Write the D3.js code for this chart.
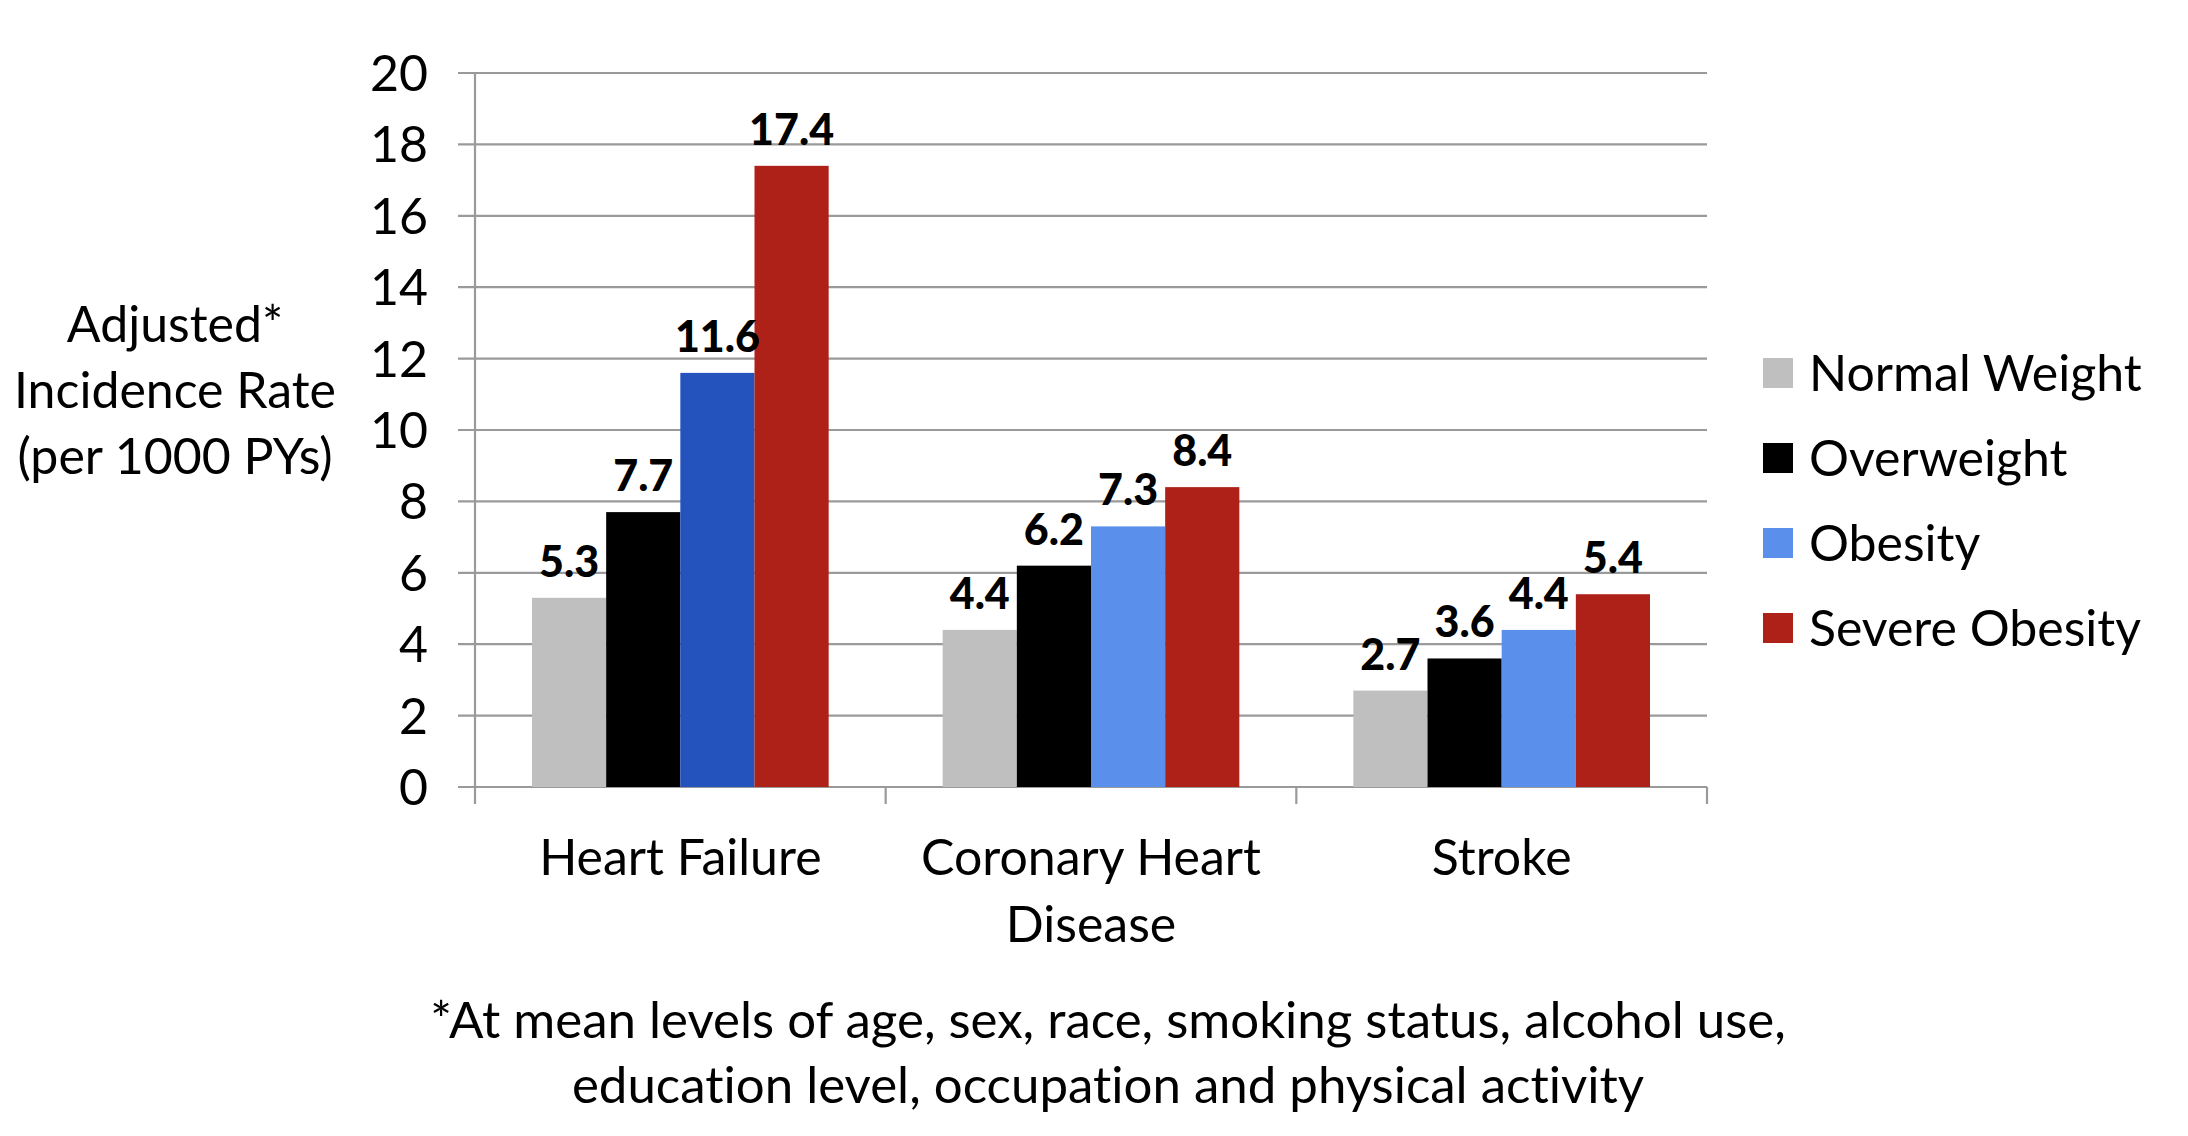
<!DOCTYPE html>
<html>
<head>
<meta charset="utf-8">
<script src="https://cdn.jsdelivr.net/npm/d3@7"></script>
<style>
  html, body { margin: 0; padding: 0; background: #ffffff; }
  svg { display: block; }
  text { font-family: Lato, "Open Sans", sans-serif; fill: #000; font-variant-ligatures: none; }
</style>
</head>
<body>
<svg id="chart" width="2188" height="1136"></svg>
<script>
// ---- data ----
const categories = ["Heart Failure", "Coronary Heart\nDisease", "Stroke"];
const seriesNames = ["Normal Weight", "Overweight", "Obesity", "Severe Obesity"];
const normalWeight = [5.3, 4.4, 2.7];
const overweight = [7.7, 6.2, 3.6];
const obesity = [11.6, 7.3, 4.4];
const severeObesity = [17.4, 8.4, 5.4];
const yTicks = [0, 2, 4, 6, 8, 10, 12, 14, 16, 18, 20];
const yTitleLines = ["Adjusted*", "Incidence Rate", "(per 1000 PYs)"];
const footnoteLines = ["*At mean levels of age, sex, race, smoking status, alcohol use,",
                       "education level, occupation and physical activity"];

const seriesValues = [normalWeight, overweight, obesity, severeObesity];
const seriesColors = ["#bfbfbf", "#000000", "#5a8fec", "#ad2118"];
const heartFailureObesityColor = "#2553be";

const svg = d3.select("#chart");
const plot = { left: 475, right: 1707, top: 73, bottom: 787 };

const x0 = d3.scaleBand().domain(categories).range([plot.left, plot.right]).padding(0);
const groupPad = 57;
const x1 = d3.scaleBand().domain(seriesNames).range([groupPad, x0.bandwidth() - groupPad]).padding(0);
const y = d3.scaleLinear().domain([0, 20]).range([plot.bottom, plot.top]);

const gridColor = "#9a9a9a";

// gridlines (with left tick stubs)
svg.append("g").selectAll("line").data(yTicks).join("line")
  .attr("x1", plot.left - 17).attr("x2", plot.right)
  .attr("y1", d => y(d)).attr("y2", d => y(d))
  .attr("stroke", gridColor).attr("stroke-width", 2.2);

// y axis line
svg.append("line")
  .attr("x1", plot.left).attr("x2", plot.left)
  .attr("y1", y(20)).attr("y2", plot.bottom + 17)
  .attr("stroke", gridColor).attr("stroke-width", 2.2);

// category tick marks
const catBounds = categories.map(c => x0(c)).concat([plot.right]);
svg.append("g").selectAll("line").data(catBounds.slice(1)).join("line")
  .attr("x1", d => d).attr("x2", d => d)
  .attr("y1", plot.bottom).attr("y2", plot.bottom + 17)
  .attr("stroke", gridColor).attr("stroke-width", 2.2);

// y tick labels
svg.append("g").selectAll("text").data(yTicks).join("text")
  .attr("x", plot.left - 47).attr("y", d => y(d))
  .attr("dy", "0.36em")
  .attr("text-anchor", "end")
  .style("font-size", "50px")
  .text(d => d);

// bars
const barData = [];
categories.forEach((c, ci) => {
  seriesNames.forEach((s, si) => {
    barData.push({ cat: c, ci, series: s, si, value: seriesValues[si][ci] });
  });
});
const barColor = d => (d.ci === 0 && d.si === 2) ? heartFailureObesityColor : seriesColors[d.si];

const groups = svg.append("g");
groups.selectAll("rect").data(barData).join("rect")
  .attr("x", d => x0(d.cat) + x1(d.series))
  .attr("y", d => y(d.value))
  .attr("width", x1.bandwidth())
  .attr("height", d => y(0) - y(d.value))
  .attr("fill", barColor);

// value labels
groups.selectAll("text").data(barData).join("text")
  .attr("x", d => x0(d.cat) + x1(d.series) + x1.bandwidth() / 2)
  .attr("y", d => y(d.value) - 21)
  .attr("text-anchor", "middle")
  .style("font-size", "43px")
  .style("font-weight", "900")
  .text(d => d.value.toFixed(1));

// category labels
const catG = svg.append("g");
categories.forEach(c => {
  const lines = c.split("\n");
  const t = catG.append("text")
    .attr("text-anchor", "middle")
    .style("font-size", "50px");
  lines.forEach((ln, i) => {
    t.append("tspan").attr("x", x0(c) + x0.bandwidth() / 2)
      .attr("y", 875 + i * 67).text(ln);
  });
});

// y axis title
const yt = svg.append("text").attr("text-anchor", "middle").style("font-size", "50px");
yTitleLines.forEach((ln, i) => {
  yt.append("tspan").attr("x", 175).attr("y", 342 + i * 66).text(ln);
});

// legend
const legend = svg.append("g");
seriesNames.forEach((s, i) => {
  const ly = 373 + i * 85;
  legend.append("rect")
    .attr("x", 1763).attr("y", ly - 15).attr("width", 30).attr("height", 30)
    .attr("fill", seriesColors[i]);
  legend.append("text")
    .attr("x", 1809).attr("y", ly).attr("dy", "0.36em")
    .style("font-size", "50px")
    .text(s);
});

// footnote
const fn = svg.append("text").attr("text-anchor", "middle").style("font-size", "51px");
footnoteLines.forEach((ln, i) => {
  fn.append("tspan").attr("x", 1108).attr("y", 1038 + i * 65).text(ln);
});
</script>
</body>
</html>
